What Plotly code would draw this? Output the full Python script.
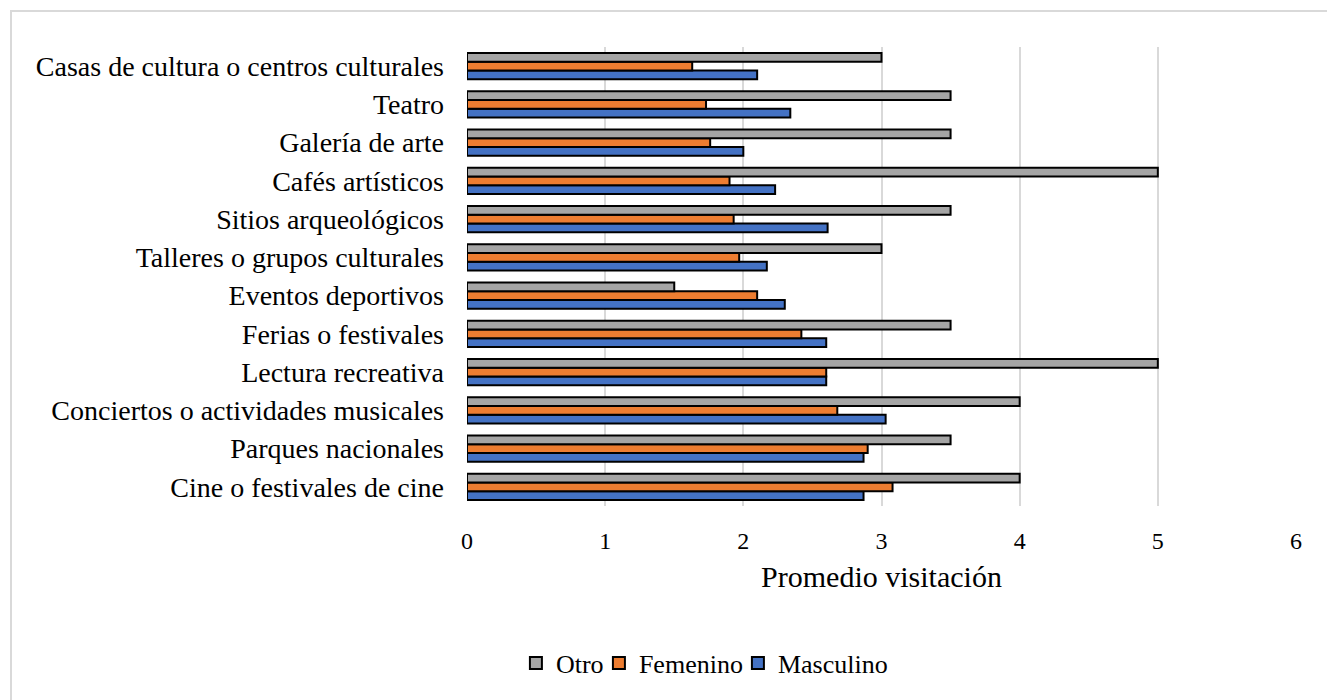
import plotly.graph_objects as go

# Categories listed bottom -> top (as drawn)
categories = [
    "Cine o festivales de cine",
    "Parques nacionales",
    "Conciertos o actividades musicales",
    "Lectura recreativa",
    "Ferias o festivales",
    "Eventos deportivos",
    "Talleres o grupos culturales",
    "Sitios arqueológicos",
    "Cafés artísticos",
    "Galería de arte",
    "Teatro",
    "Casas de cultura o centros culturales",
]
masculino = [2.87, 2.87, 3.03, 2.60, 2.60, 2.30, 2.17, 2.61, 2.23, 2.00, 2.34, 2.10]
femenino = [3.08, 2.90, 2.68, 2.60, 2.42, 2.10, 1.97, 1.93, 1.90, 1.76, 1.73, 1.63]
otro = [4.0, 3.5, 4.0, 5.0, 3.5, 1.5, 3.0, 3.5, 5.0, 3.5, 3.5, 3.0]

x_ticks = [0, 1, 2, 3, 4, 5, 6]

FONT = "Times New Roman"
line = dict(color="black", width=2)

fig = go.Figure()
fig.add_trace(go.Bar(y=categories, x=masculino, orientation="h", name="Masculino",
                     marker=dict(color="#4472C4", line=line)))
fig.add_trace(go.Bar(y=categories, x=femenino, orientation="h", name="Femenino",
                     legendwidth=94, marker=dict(color="#ED7D31", line=line)))
fig.add_trace(go.Bar(y=categories, x=otro, orientation="h", name="Otro",
                     legendwidth=38, marker=dict(color="#A5A5A5", line=line)))

fig.update_layout(
    width=1327, height=700,
    margin=dict(l=467, r=31, t=47, b=194),
    paper_bgcolor="white", plot_bgcolor="white",
    barmode="group", bargap=0.32, bargroupgap=0,
    font=dict(family=FONT, color="black", size=22),
    showlegend=True,
    legend=dict(orientation="h", traceorder="reversed", x=0.059, xanchor="left",
                y=-0.342, yanchor="middle", font=dict(size=26, family=FONT, color="black"),
                itemwidth=30, bgcolor="rgba(0,0,0,0)"),
    xaxis=dict(range=[0, 6], tickvals=x_ticks, ticktext=[str(t) for t in x_ticks],
               showgrid=True, gridcolor="#d9d9d9", gridwidth=2,
               zeroline=False, showline=False, ticks="",
               tickfont=dict(size=24, family=FONT, color="black"), ticklabelstandoff=18,
               title=dict(text="Promedio visitación", font=dict(size=30, family=FONT, color="black"),
                          standoff=12)),
    yaxis=dict(showgrid=False, zeroline=False, showline=False, ticks="",
               tickfont=dict(size=28, family=FONT, color="black"), ticklabelstandoff=22),
    shapes=[dict(type="rect", xref="paper", yref="paper",
                 x0=(11 - 467) / 829, x1=(1340 - 467) / 829,
                 y0=-(720 - 506) / 459, y1=1 + (47 - 11) / 459,
                 line=dict(color="#d9d9d9", width=2), layer="below")],
)

fig.write_html("out.html")
